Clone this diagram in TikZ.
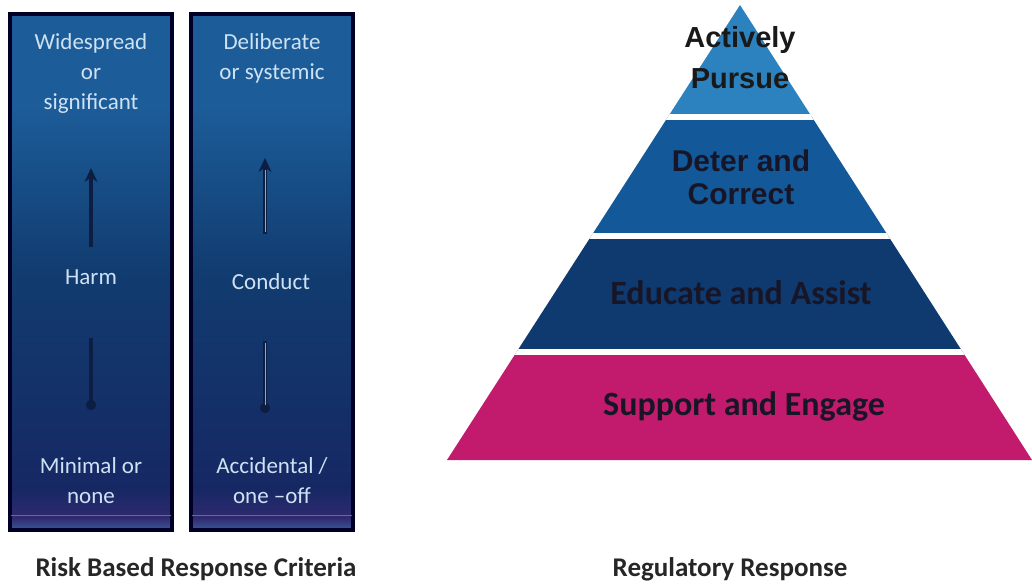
\documentclass[tikz,border=0pt]{standalone}
\usepackage{fontspec}
\setmainfont{Carlito}
\newfontfamily\arialfont{Liberation Sans}
\usetikzlibrary{arrows.meta}

\definecolor{boxtop}{RGB}{28,92,152}
\definecolor{boxmid}{RGB}{17,60,112}
\definecolor{boxbot}{RGB}{22,40,100}
\definecolor{boxpurple}{RGB}{48,42,112}
\definecolor{boxfoot}{RGB}{58,88,150}
\definecolor{boxpink}{RGB}{200,60,120}
\definecolor{crittxt}{RGB}{206,226,244}
\definecolor{arrowdark}{RGB}{12,30,66}
\definecolor{pursuecol}{RGB}{44,130,190}
\definecolor{detercol}{RGB}{19,88,152}
\definecolor{educatecol}{RGB}{14,58,112}
\definecolor{supportcol}{RGB}{194,26,108}
\definecolor{leveltxt}{RGB}{24,22,38}

\pgfdeclareverticalshading{critshade}{100bp}{color(0bp)=(boxfoot); color(25bp)=(boxfoot);
  color(26.2bp)=(boxpurple); color(29bp)=(boxbot); color(50bp)=(boxmid);
  color(66bp)=(boxtop); color(75bp)=(boxtop); color(100bp)=(boxtop)}

\tikzset{
  critbox/.style={draw=black!85!blue, line width=3.5, shading=critshade,
    minimum width=162, minimum height=516, inner sep=0},
  crittext/.style={text=crittxt, align=center, font=\fontsize{23}{30}\selectfont},
  dimarrow/.style={draw=arrowdark, line width=4},
  thinlight/.style={draw=crittxt!70!arrowdark, line width=0.8},
  level/.style={text=leveltxt, align=center, font=\bfseries\fontsize{34}{34}\selectfont},
  arialbold/.style={font=\arialfont\bfseries\fontsize{30}{33}\selectfont},
  caption/.style={font=\bfseries\fontsize{27}{30}\selectfont, text=black!85}
}

\begin{document}
\begin{tikzpicture}[x=1pt,y=-1pt]
\useasboundingbox (0,0) rectangle (1032,586);

% criteria boxes
\node[critbox] (harmbox) at (91,272) {};
\node[critbox] (condbox) at (272,272) {};
\foreach \b in {harmbox,condbox}
  \draw[boxpink, line width=1.2] ([xshift=3pt,yshift=16pt]\b.south west) -- ([xshift=-3pt,yshift=16pt]\b.south east);

\node[crittext] (harmhi) at (91,73) {Widespread\\or\\significant};
\node[crittext] (harm) at (91,277) {Harm};
\node[crittext] (harmlo) at (91,481) {Minimal or\\none};
\node[crittext] (condhi) at (272,58) {Deliberate\\or systemic};
\node[crittext] (cond) at (271,282) {Conduct};
\node[crittext] (condlo) at (272,481) {Accidental /\\one –off};

\coordinate (harmup) at (91,168);
\coordinate (harmdown) at (91,410);
\coordinate (condup) at (265,158);
\coordinate (conddown) at (265,413);

\draw[dimarrow, shorten <=19, -{Stealth[length=14,width=13]}] (harm.north) -- (harmup);
\draw[dimarrow, shorten <=50, -{Circle[length=10]}] (harm.south) -- (harmdown);
\draw[dimarrow, shorten <=36, -{Stealth[length=14,width=13]}] (cond.north -| condup) -- (condup);
\draw[dimarrow, shorten <=47, -{Circle[length=10]}] (cond.south -| conddown) -- (conddown);
\draw[thinlight, shorten <=38, shorten >=12] (cond.north -| condup) -- (condup);
\draw[thinlight, shorten <=49, shorten >=8] (cond.south -| conddown) -- (conddown);

% pyramid
\coordinate (apex) at (740,5);
\coordinate (bl) at (447,460);
\coordinate (br) at (1032,460);
\begin{scope}
\clip (apex) -- (br) -- (bl) -- cycle;
\fill[pursuecol] (440,0) rectangle (1032,117);
\fill[detercol] (440,117) rectangle (1032,236);
\fill[educatecol] (440,236) rectangle (1032,352);
\fill[supportcol] (440,352) rectangle (1032,461);
\foreach \y in {117,236,352}
  \fill[white] (440,\y-2.8) rectangle (1032,\y+2.8);
\end{scope}

\node[level, arialbold, font=\arialfont\bfseries\fontsize{29}{41}\selectfont, text=black!90] (pursue) at (740,58) {Actively\\Pursue};
\node[level, arialbold] (deter) at (741,177) {Deter and\\Correct};
\node[level] (educate) at (741,293) {Educate and Assist};
\node[level] (support) at (744,406) {Support and Engage};

% captions
\node[caption] (riskcap) at (196,569) {Risk Based Response Criteria};
\node[caption] (regcap) at (730,569) {Regulatory Response};

\end{tikzpicture}
\end{document}
